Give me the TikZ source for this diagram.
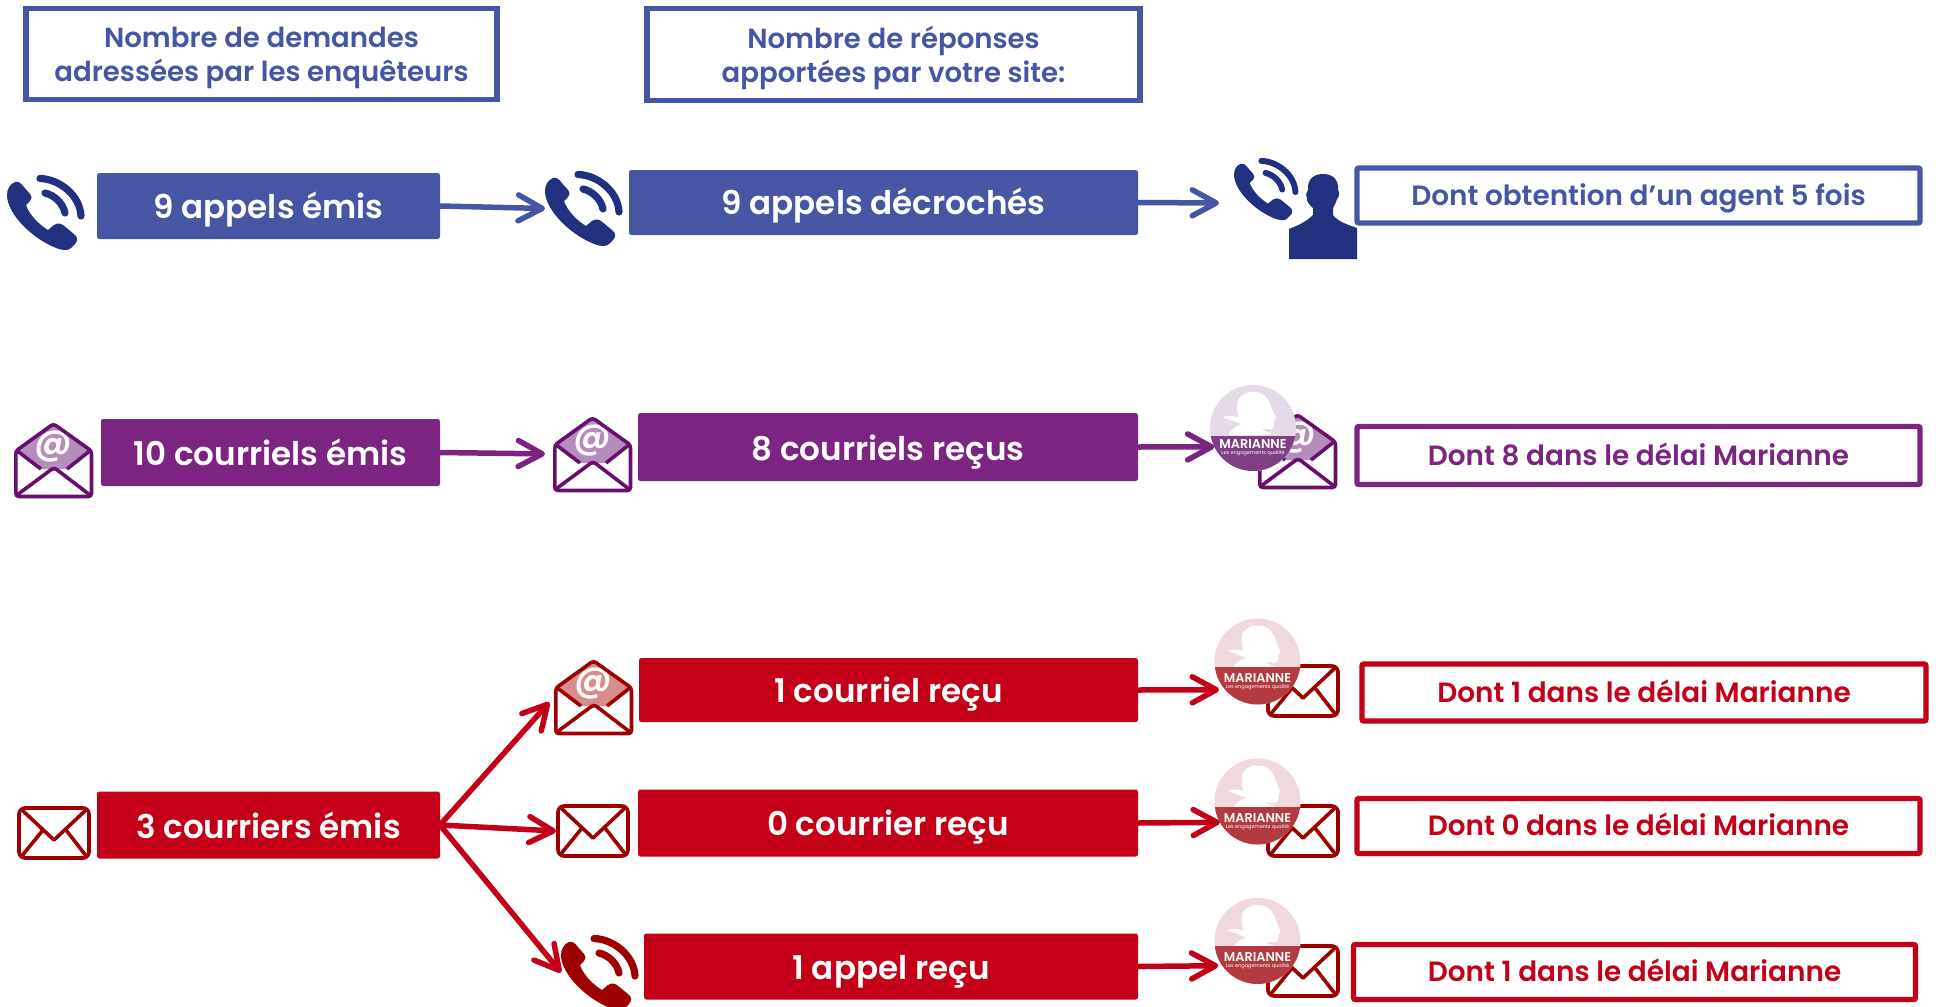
\documentclass[tikz,border=0pt]{standalone}
\usepackage{fontspec}
\setmainfont{Poppins}
\newfontfamily\lbl{Poppins SemiBold}
\usetikzlibrary{arrows.meta,calc}
\definecolor{cB}{HTML}{4755A5}\definecolor{dB}{HTML}{21307F}
\definecolor{cP}{HTML}{7B2481}\definecolor{dP}{HTML}{680F6E}\definecolor{lP}{HTML}{B48DBA}
\definecolor{cR}{HTML}{C30017}\definecolor{dR}{HTML}{9E0000}\definecolor{lR}{HTML}{D98C8C}
\definecolor{mPa}{HTML}{E5DAE8}\definecolor{mPb}{HTML}{7F3F85}
\definecolor{mRa}{HTML}{F0D9DA}\definecolor{mRb}{HTML}{B23A40}
\newcommand\dn[2]{\smash{\raisebox{#1}{#2}}}
\tikzset{
  sz/.style 2 args={minimum width=#1*0.5pt,minimum height=#2*0.5pt,inner sep=0pt,outer sep=0pt},
  solidbox/.style={rectangle,rounded corners=1.2pt,fill=#1,text=white,font=\lbl\fontsize{16.3}{18}\selectfont},
  outbox/.style={rectangle,rounded corners=1pt,draw=#1,line width=2.7pt,fill=white,text=#1,font=\lbl\fontsize{13.95}{15}\selectfont},
  headbox/.style={rectangle,draw=cB,line width=2.7pt,fill=white,text=cB,align=center,font=\lbl\fontsize{13.8}{17}\selectfont},
  flow/.style={draw=#1,line width=2.75pt,line cap=round,-{Straight Barb[length=12pt,width=13pt,round]}},
  iconanchor/.style={rectangle,draw=none,fill=none},
  envstroke/.style={draw=#1,line width=1.8pt,line join=round},
}
% phone: name, x, y, scale, colour
\newcommand\phoneicon[5]{%
 \begin{scope}[shift={(#2,#3)},scale=#4]
  \node[iconanchor,sz={77*#4}{75*#4}] (#1) at (38.5,37.5) {};
  \fill[#5] (0,20) .. controls (0,14) and (3,9) .. (8,7) .. controls (11,6) and (14,8) .. (16,11) -- (23,19) .. controls (25,22) and (25,24) .. (23,26) -- (19,30) .. controls (22,39) and (31,49) .. (41,55) -- (47,50) .. controls (50,48) and (53,48) .. (56,50) -- (67,59) .. controls (71,62) and (71,66) .. (68,69) -- (64,73) .. controls (61,76) and (56,75) .. (52,74) .. controls (28,66) and (0,40) .. (0,20) -- cycle;
  \draw[#5,line width=#4*3.6pt,line cap=round] (33,3.5) .. controls (52,4) and (73,20) .. (74,41);
  \draw[#5,line width=#4*3.6pt,line cap=round] (38,18) .. controls (47,20) and (56,28) .. (58,38);
 \end{scope}}
% closed envelope: name, x, y, colour
\newcommand\mailclosed[4]{%
 \begin{scope}[shift={(#2,#3)}]
  \node[iconanchor,sz={74}{54}] (#1) at (37,27) {};
  \draw[envstroke=#4,fill=white,rounded corners=3pt] (2,2) rectangle (72,52);
  \draw[envstroke=#4] (4,3) -- (37,34) -- (70,3);
  \draw[envstroke=#4] (4,51) -- (26,24) (70,51) -- (49,24);
 \end{scope}}
% open envelope: name, x, y, dark colour, light colour
\newcommand\mailopen[5]{%
 \begin{scope}[shift={(#2,#3)}]
  \node[iconanchor,sz={79}{76}] (#1) at (39.5,38) {};
  \fill[white] (2,29) -- (39.5,2) -- (77.5,29) -- (77.5,74) -- (2,74) -- cycle;
  \fill[#5] (2,28) -- (39.5,2) -- (77,28) -- (53,47) -- (27,47) -- cycle;
  \node[text=white,font=\lbl\fontsize{18}{18}\selectfont,inner sep=0pt] (#1at) at (39.5,25) {@};
  \draw[envstroke=#4,rounded corners=1.5pt] (1.8,29) -- (39.5,1.8) -- (77.5,29) -- (77.5,74.5) -- (1.8,74.5) -- cycle;
  \draw[envstroke=#4] (2,28) -- (27,47) (77,28) -- (53,47);
  \draw[envstroke=#4,rounded corners=1.5pt] (3,73) -- (40,45.5) -- (76,73);
 \end{scope}}
% Marianne: name, cx, cy, band y offset, light, band
\newcommand\marianne[6]{%
 \node[circle,minimum size=43pt,inner sep=0pt,outer sep=0pt,fill=#5] (#1) at (#2,#3) {};
 \begin{scope}[shift={(#2,#3)}]
  \begin{scope}
   \clip (0,0) circle[radius=43];
   \fill[white] plot[smooth cycle,tension=.6] coordinates {(-2,-36)(7,-35)(14,-30)(18,-22)(21,-14)(23,-10)(21,-7)(21,-3)(19,1)(12,1)(9,1)(12,3)(18,6)(-2,7)(-14,6)(-12,-6)(-14,-10)(-16,-20)(-15,-28)(-9,-34)};
   \fill[white] (-30,-11) .. controls (-20,-13) and (-14,-11) .. (-8,-9) -- (-8,-3) .. controls (-18,-6) and (-24,-8) .. (-30,-11) -- cycle;
   \fill[white] (-24,5) .. controls (-18,-2) and (-12,-4) .. (-6,-4) -- (-6,7) -- (-24,7) -- cycle;
   \fill[#6] (-43,#4) rectangle (43,43);
  \end{scope}
  \node[text=white,inner sep=0pt,font=\lbl\fontsize{6.4}{7}\selectfont] (#1a) at (0,16.5) {MARIANNE};
  \node[text=white,inner sep=0pt,font=\fontsize{2.5}{3}\selectfont] (#1b) at (0,25.5) {Les engagements qualité};
 \end{scope}}
\begin{document}
\begin{tikzpicture}[x=0.5pt,y=-0.5pt]
\useasboundingbox (0,0) rectangle (1936,1006);
\clip (0,0) rectangle (1936,1006);
\fill[white] (0,0) rectangle (1936,1006);
% headers
\node[headbox,sz={471}{91}] (h1) at (261.5,54) {\rule{0pt}{14.6pt}Nombre de demandes\\adressées par les enquêteurs};
\node[headbox,sz={493}{92}] (h2) at (893.5,54.5) {\rule{0pt}{14.6pt}Nombre de réponses\\apportées par votre site:};
% row 1
\phoneicon{p1}{7}{175}{1}{dB}
\node[solidbox=cB,sz={343}{66}] (a1) at (268.5,206) {\dn{-6pt}{9 appels émis}};
\phoneicon{p2}{545}{171}{1}{dB}
\node[solidbox=cB,sz={509}{65}] (b1) at (883.5,202.5) {\dn{-6pt}{9 appels décrochés}};
\phoneicon{p3}{1234}{158}{.83}{dB}
\node[iconanchor,sz={68}{85}] (pers) at (1323,216.5) {};
\fill[dB] (1289,229) .. controls (1296,226) and (1305,223) .. (1313,215) -- (1313,208) .. controls (1309,205) and (1306,200) .. (1307,198) .. controls (1305,194) and (1307,192) .. (1308,190) .. controls (1307,178) and (1315,174) .. (1323,174) .. controls (1331,174) and (1339,178) .. (1338,190) .. controls (1340,192) and (1339,198) .. (1337,199) .. controls (1336,203) and (1334,206) .. (1333,208) -- (1333,215) .. controls (1338,222) and (1349,225) .. (1357,228) -- (1357,259) -- (1289,259) -- cycle;
\node[outbox=cB,sz={563}{55}] (c1) at (1638.5,195.5) {\dn{-4.8pt}{Dont obtention d’un agent 5 fois}};
\coordinate (t1) at (1219,203);
\draw[flow=cB] (a1.east) -- (p2.west);
\draw[flow=cB] (b1.east) -- (t1);
% row 2
\mailopen{e1}{14}{422}{dP}{lP}
\node[solidbox=cP,sz={339}{67}] (a2) at (270.5,452.5) {\dn{-6.6pt}{10 courriels émis}};
\mailopen{e2}{553}{416}{dP}{lP}
\node[solidbox=cP,sz={500}{68}] (b2) at (888,447) {\dn{-6.8pt}{8 courriels reçus}};
\mailopen{e3}{1258}{413}{dP}{lP}
\marianne{m1}{1253}{428}{8}{mPa}{mPb}
\node[outbox=cP,sz={563}{58}] (c2) at (1638.5,455.5) {\dn{-4.8pt}{Dont 8 dans le délai Marianne}};
\draw[flow=cP,shorten >=4pt] (a2.east) -- (e2.west);
\draw[flow=cP] (b2.east) -- (m1.206.2);
% row 3
\mailclosed{f0}{17}{806}{dR}
\node[solidbox=cR,sz={343}{67}] (a3) at (268.5,825) {\dn{-6.8pt}{3 courriers émis}};
\mailopen{f1}{554}{659}{dR}{lR}
\node[solidbox=cR,sz={499}{64}] (b3) at (888.5,690) {\dn{-6.3pt}{1 courriel reçu}};
\mailclosed{f2}{556}{804}{dR}
\node[solidbox=cR,sz={500}{67}] (b4) at (888,823) {\dn{-6.4pt}{0 courrier reçu}};
\phoneicon{f3}{561}{935}{1}{dR}
\node[solidbox=cR,sz={494}{66}] (b5) at (891,966.5) {\dn{-6.4pt}{1 appel reçu}};
\mailclosed{g1}{1266}{664}{dR}
\marianne{m2}{1257.5}{661.5}{5}{mRa}{mRb}
\mailclosed{g2}{1266}{804}{dR}
\marianne{m3}{1257.5}{801.5}{5}{mRa}{mRb}
\mailclosed{g3}{1266}{944}{dR}
\marianne{m4}{1257.5}{941}{5}{mRa}{mRb}
\node[outbox=cR,sz={564}{57}] (c3) at (1644,692.5) {\dn{-4.8pt}{Dont 1 dans le délai Marianne}};
\node[outbox=cR,sz={563}{55}] (c4) at (1638.5,826) {\dn{-4.8pt}{Dont 0 dans le délai Marianne}};
\node[outbox=cR,sz={562}{55}] (c5) at (1634.5,972) {\dn{-4.8pt}{Dont 1 dans le délai Marianne}};
\draw[flow=cR,shorten >=3.5pt] (a3.east) -- (f1.west);
\draw[flow=cR] (a3.east) -- (f2.west);
\draw[flow=cR] (a3.east) -- (f3.west);
\draw[flow=cR,shorten >=3pt] (b3.east) -- (m2.221.5);
\draw[flow=cR] (b4.east) -- (m3.209.2);
\draw[flow=cR,shorten >=2pt] (b5.east) -- (m4.215.5);
\end{tikzpicture}
\end{document}
